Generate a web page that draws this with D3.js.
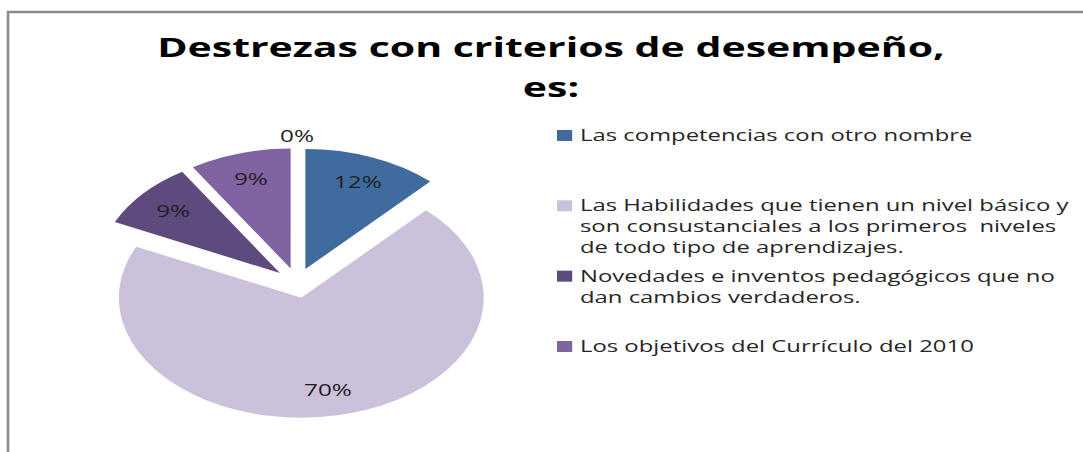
<!DOCTYPE html>
<html>
<head>
<meta charset="utf-8">
<script src="https://cdn.jsdelivr.net/npm/d3@7.9.0/dist/d3.min.js"></script>
<style>
  body { margin: 0; background: #fff; }
  svg { display: block; }
  text { font-family: "Open Sans", sans-serif; fill: #1f1f1f; white-space: pre; }
</style>
</head>
<body>
<svg width="1083" height="452"></svg>
<script>
const titleLines = ['Destrezas con criterios de desempeño,', 'es:'];

const categories = [
  'Las competencias con otro nombre',
  'Las Habilidades que tienen un nivel básico y son consustanciales a los primeros  niveles de todo tipo de aprendizajes.',
  'Novedades e inventos pedagógicos que no dan cambios verdaderos.',
  'Los objetivos del Currículo del 2010',
  '' // fifth answer, 0%, no legend entry
];

// legend text as it wraps in the original
const legendLines = [
  ['Las competencias con otro nombre'],
  ['Las Habilidades que tienen un nivel básico y', 'son consustanciales a los primeros  niveles', 'de todo tipo de aprendizajes.'],
  ['Novedades e inventos pedagógicos que no', 'dan cambios verdaderos.'],
  ['Los objetivos del Currículo del 2010']
];

const values = [12, 70, 9, 9, 0];
const colors = ['#406B9E', '#CBC1DB', '#5E4A7C', '#8064A2', '#8064A2'];

// the original picture is stretched horizontally
const SX = 1.52;
const svg = d3.select('svg');

// frame (top and left edges visible)
svg.append('path')
  .attr('d', 'M8,452V12H1083')
  .attr('fill', 'none')
  .attr('stroke', '#8a8a8a')
  .attr('stroke-width', 2.5);

const g = svg.append('g').attr('transform', `scale(${SX},1)`);

// title
g.selectAll('.title')
  .data(titleLines)
  .join('text')
  .attr('class', 'title')
  .attr('x', 551 / SX)
  .attr('y', (d, i) => 57 + i * 40)
  .attr('text-anchor', 'middle')
  .style('font-size', '27px')
  .style('font-weight', 'bold')
  .style('fill', '#000')
  .text((d) => d);

// pie
const r = 120;
const explode = 15;
const pieG = g.append('g').attr('transform', `translate(${297 / SX},283)`);

const pie = d3.pie().sort(null).value((d) => d);
const arcData = pie(values);
const arcGen = d3.arc().innerRadius(0).outerRadius(r);
const labelArc = d3.arc().innerRadius(r * 0.78).outerRadius(r * 0.78);

function offset(d, dist) {
  const a = (d.startAngle + d.endAngle) / 2;
  return [Math.sin(a) * dist, -Math.cos(a) * dist];
}

pieG.selectAll('path')
  .data(arcData)
  .join('path')
  .attr('d', arcGen)
  .attr('fill', (d, i) => colors[i])
  .attr('transform', (d) => {
    const [dx, dy] = offset(d, explode);
    return `translate(${dx},${dy})`;
  });

pieG.selectAll('.lbl')
  .data(arcData)
  .join('text')
  .attr('class', 'lbl')
  .attr('transform', (d) => {
    let x, y;
    if (d.value === 0) {
      [x, y] = offset(d, r + explode + 12);
    } else {
      const [cx, cy] = labelArc.centroid(d);
      const [dx, dy] = offset(d, explode);
      x = cx + dx;
      y = cy + dy;
    }
    return `translate(${x},${y})`;
  })
  .attr('text-anchor', 'middle')
  .attr('dominant-baseline', 'central')
  .style('font-size', '16px')
  .text((d) => d.value + '%');

// legend
const legendY = d3.scalePoint()
  .domain(d3.range(legendLines.length))
  .range([141, 352]);

const items = g.selectAll('.legend-item')
  .data(legendLines)
  .join('g')
  .attr('class', 'legend-item')
  .attr('transform', (d, i) => `translate(${557 / SX},${legendY(i)})`);

items.append('rect')
  .attr('x', 0)
  .attr('y', -11)
  .attr('width', 10)
  .attr('height', 11)
  .attr('fill', (d, i) => colors[i]);

items.selectAll('text')
  .data((d) => d)
  .join('text')
  .attr('x', 23 / SX)
  .attr('y', (d, j) => j * 21)
  .style('font-size', '15.7px')
  .style('fill', '#262626')
  .text((d) => d);
</script>
</body>
</html>
